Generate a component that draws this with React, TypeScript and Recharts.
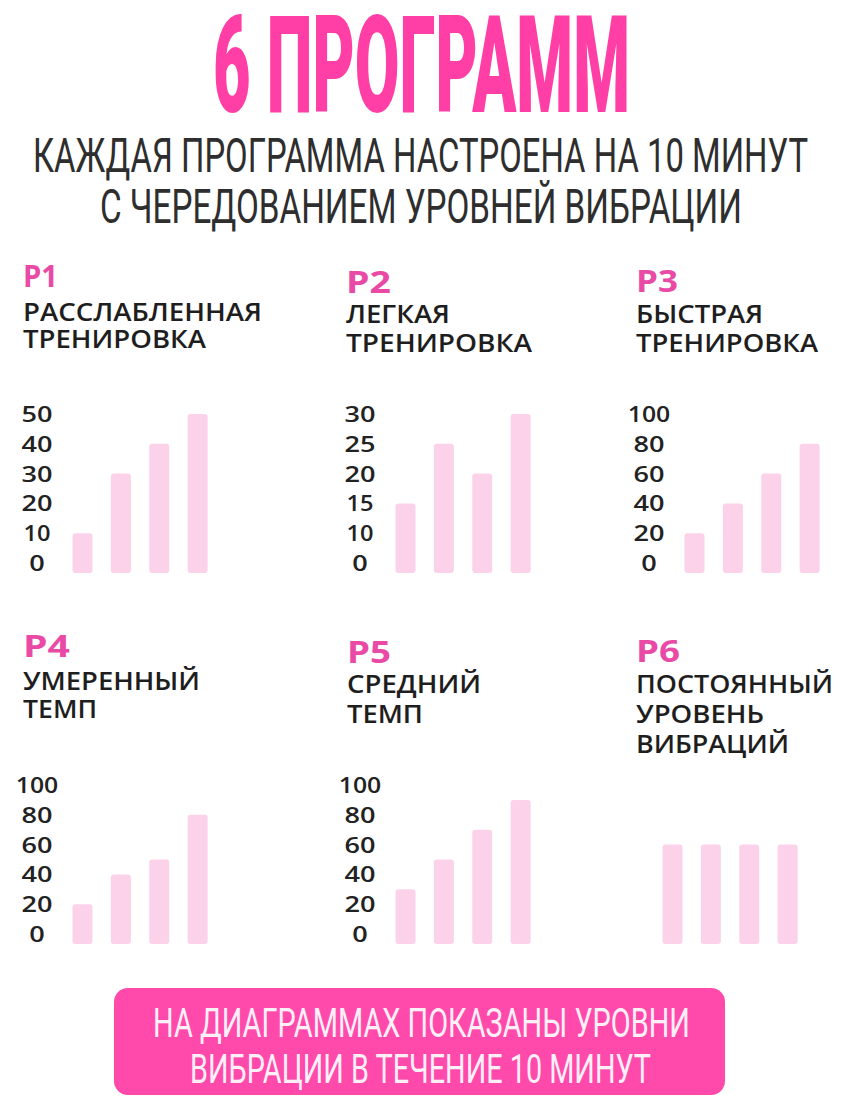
import React from "react";
import { BarChart, Bar, XAxis, YAxis } from "recharts";

// four equal slices of the 10-minute program
const SEGMENTS = ["0-2.5", "2.5-5", "5-7.5", "7.5-10"];

const P1_LEVELS = [10, 30, 40, 50];
const P2_LEVELS = [15, 25, 20, 30];
const P3_LEVELS = [20, 40, 60, 80];
const P4_LEVELS = [20, 40, 50, 80];
const P5_LEVELS = [30, 50, 70, 90];
const P6_LEVELS = [60, 60, 60, 60];

const P1_TICKS = ["0", "10", "20", "30", "40", "50"];
const P2_TICKS = ["0", "10", "15", "20", "25", "30"];
const PCT_TICKS = ["0", "20", "40", "60", "80", "100"];

// the P2 axis is evenly spaced, so its "0" label sits one step (5) below 10
const P1_DOMAIN: [number, number] = [0, 50];
const P2_DOMAIN: [number, number] = [5, 30];
const PCT_DOMAIN: [number, number] = [0, 100];

const PINK_TITLE = "#ff3fa6";
const PINK_LABEL = "#e94aa5";
const PINK_BANNER = "#ff49ab";
const BAR = "#fcd2ea";
const INK = "#222222";

const YAXIS_W = 63.5;
const TICK_CX = 37;

function PillBar(props: any) {
  const { x, y, width, height } = props;
  if (height == null || isNaN(height)) return null;
  // bars in the picture run ~10px below the zero line
  return <rect x={x} y={y} width={width} height={height + 10} rx={3} ry={3} fill={BAR} />;
}

function LevelTick(props: any) {
  const { x, y, payload, positions, labels } = props;
  const i = positions.indexOf(payload.value);
  const label = i >= 0 ? labels[i] : String(payload.value);
  const w = [...label].reduce((s: number, c: string) => s + (c === "1" ? 11.5 : 15.5), 0);
  return (
    <text
      x={x - (YAXIS_W - TICK_CX)}
      y={y}
      dy="0.36em"
      textAnchor="middle"
      textLength={w}
      lengthAdjust="spacingAndGlyphs"
      fontFamily="'Open Sans', sans-serif"
      fontWeight={600}
      fontSize={22}
      fill={INK}
    >
      {label}
    </text>
  );
}

function LevelChart({
  levels,
  domain,
  ticks,
  showAxis = true,
}: {
  levels: number[];
  domain: [number, number];
  ticks: string[];
  showAxis?: boolean;
}) {
  const data = SEGMENTS.map((s, i) => ({ seg: s, level: levels[i] }));
  const step = (domain[1] - domain[0]) / (ticks.length - 1);
  const positions = ticks.map((_, i) => domain[0] + step * i);
  return (
    <BarChart
      width={230}
      height={190}
      data={data}
      margin={{ top: 14, right: 13, bottom: 27, left: showAxis ? 0 : YAXIS_W }}
    >
      <XAxis dataKey="seg" hide />
      <YAxis
        type="number"
        domain={domain}
        ticks={positions}
        interval={0}
        width={YAXIS_W}
        axisLine={false}
        tickLine={false}
        tickSize={0}
        tickMargin={0}
        hide={!showAxis}
        tick={<LevelTick positions={positions} labels={ticks} />}
      />
      <Bar dataKey="level" barSize={20} fill={BAR} shape={<PillBar />} isAnimationActive={false} />
    </BarChart>
  );
}

function T({
  x,
  y,
  w,
  size,
  weight = 500,
  fill = INK,
  family = "'Open Sans', sans-serif",
  children,
}: any) {
  return (
    <text
      x={x}
      y={y}
      textLength={w}
      lengthAdjust="spacingAndGlyphs"
      fontSize={size}
      fontWeight={weight}
      fill={fill}
      fontFamily={family}
    >
      {children}
    </text>
  );
}

const COND = "Roboto, 'Liberation Sans Narrow', sans-serif";

function Head({ x, y, tag, tagW, lines }: { x: number; y: number; tag: string; tagW: number; lines: [string, number, number][] }) {
  return (
    <g>
      <T x={x} y={y} w={tagW} size={30} weight={700} fill={PINK_LABEL}>
        {tag}
      </T>
      {lines.map(([s, yy, w]) => (
        <T key={s + yy} x={x} y={yy} w={w} size={25} weight={600} fill="#1e1e1e">
          {s}
        </T>
      ))}
    </g>
  );
}

export default function App() {
  const place = (left: number, top: number) => ({ position: "absolute" as const, left, top });
  return (
    <div style={{ position: "absolute", left: 0, top: 0, width: 844, height: 1107, background: "#fff", overflow: "hidden" }}>
      <svg width={844} height={1107} style={{ position: "absolute", left: 0, top: 0 }}>
        <T x={213} y={112} w={417} size={136} weight={900} fill={PINK_TITLE} family={COND}>
          6 ПРОГРАММ
        </T>
        <T x={33} y={172} w={775} size={48} weight={400} fill="#2e2e2e" family={COND}>
          КАЖДАЯ ПРОГРАММА НАСТРОЕНА НА 10 МИНУТ
        </T>
        <T x={100} y={223} w={642} size={48} weight={400} fill="#2e2e2e" family={COND}>
          С ЧЕРЕДОВАНИЕМ УРОВНЕЙ ВИБРАЦИИ
        </T>

        <Head x={23} y={287} tag="P1" tagW={35} lines={[["РАССЛАБЛЕННАЯ", 321, 239], ["ТРЕНИРОВКА", 348, 183]]} />
        <Head x={346} y={293} tag="P2" tagW={45} lines={[["ЛЕГКАЯ", 323, 104], ["ТРЕНИРОВКА", 352, 186]]} />
        <Head x={636} y={292} tag="P3" tagW={42} lines={[["БЫСТРАЯ", 323, 127], ["ТРЕНИРОВКА", 352, 182]]} />
        <Head x={23} y={657} tag="P4" tagW={47} lines={[["УМЕРЕННЫЙ", 690, 177], ["ТЕМП", 718, 74]]} />
        <Head x={347} y={663} tag="P5" tagW={44} lines={[["СРЕДНИЙ", 693, 134], ["ТЕМП", 723, 76]]} />
        <Head
          x={636}
          y={662}
          tag="P6"
          tagW={44}
          lines={[["ПОСТОЯННЫЙ", 693, 197], ["УРОВЕНЬ", 723, 128], ["ВИБРАЦИЙ", 753, 153]]}
        />

        <rect x={114} y={988} width={611} height={107} rx={14} ry={14} fill={PINK_BANNER} />
        <T x={153} y={1037} w={537} size={41} weight={400} fill="#fff0f8" family={COND}>
          НА ДИАГРАММАХ ПОКАЗАНЫ УРОВНИ
        </T>
        <T x={190} y={1083} w={461} size={41} weight={400} fill="#fff0f8" family={COND}>
          ВИБРАЦИИ В ТЕЧЕНИЕ 10 МИНУТ
        </T>
      </svg>

      <div style={place(0, 400)}>
        <LevelChart levels={P1_LEVELS} domain={P1_DOMAIN} ticks={P1_TICKS} />
      </div>
      <div style={place(323, 400)}>
        <LevelChart levels={P2_LEVELS} domain={P2_DOMAIN} ticks={P2_TICKS} />
      </div>
      <div style={place(612, 400)}>
        <LevelChart levels={P3_LEVELS} domain={PCT_DOMAIN} ticks={PCT_TICKS} />
      </div>
      <div style={place(0, 771)}>
        <LevelChart levels={P4_LEVELS} domain={PCT_DOMAIN} ticks={PCT_TICKS} />
      </div>
      <div style={place(323, 771)}>
        <LevelChart levels={P5_LEVELS} domain={PCT_DOMAIN} ticks={PCT_TICKS} />
      </div>
      <div style={place(590, 771)}>
        <LevelChart levels={P6_LEVELS} domain={PCT_DOMAIN} ticks={PCT_TICKS} showAxis={false} />
      </div>
    </div>
  );
}
